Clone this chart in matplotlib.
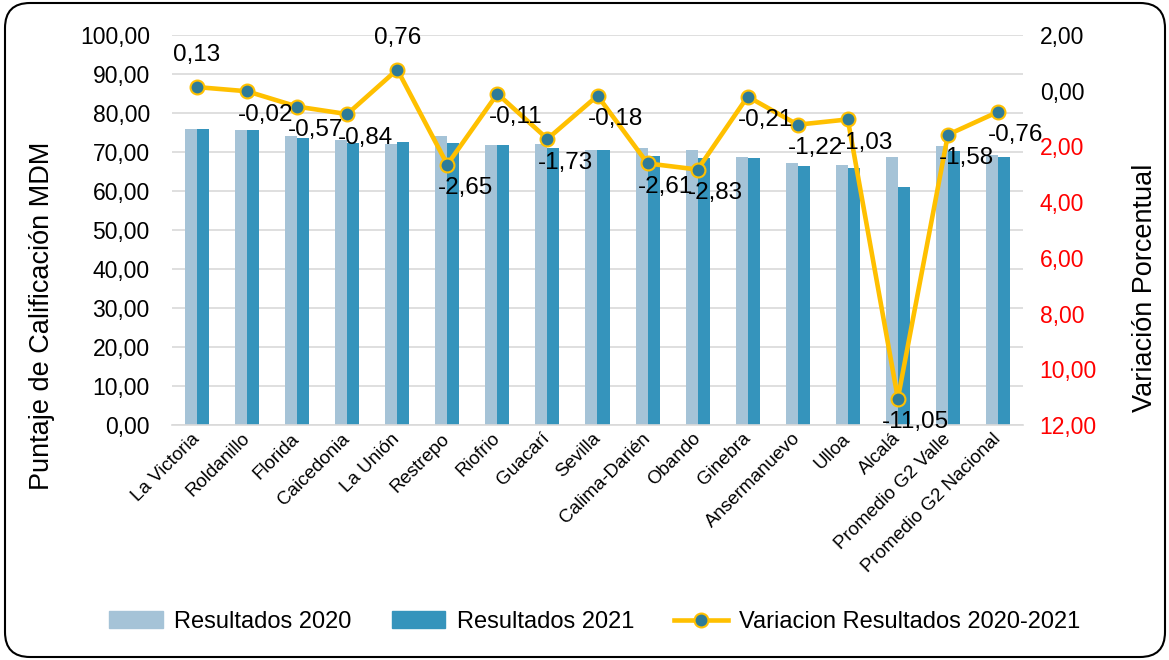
import matplotlib
matplotlib.use("Agg")
import matplotlib.pyplot as plt
from matplotlib.patches import FancyBboxPatch, Patch
from matplotlib.lines import Line2D
from matplotlib.ticker import FuncFormatter, MultipleLocator
import numpy as np

plt.rcParams['font.family'] = ['Liberation Sans', 'DejaVu Sans']

# datos
municipios = ["La Victoria", "Roldanillo", "Florida", "Caicedonia", "La Unión", "Restrepo",
              "Riofrio", "Guacarí", "Sevilla", "Calima-Darién", "Obando", "Ginebra",
              "Ansermanuevo", "Ulloa", "Alcalá", "Promedio G2 Valle", "Promedio G2 Nacional"]
res_2020 = [75.8, 75.6, 74.0, 73.0, 72.0, 74.1, 71.8, 72.1, 70.5, 70.9, 70.5, 68.6,
            67.2, 66.6, 68.6, 71.5, 69.2]
res_2021 = [75.9, 75.6, 73.6, 72.4, 72.5, 72.2, 71.8, 70.9, 70.4, 69.1, 68.5, 68.4,
            66.4, 66.0, 61.0, 70.3, 68.8]
variacion = [0.13, -0.02, -0.57, -0.84, 0.76, -2.65, -0.11, -1.73, -0.18, -2.61, -2.83,
             -0.21, -1.22, -1.03, -11.05, -1.58, -0.76]

c2020 = "#A5C3D7"
c2021 = "#3594BC"
c_linea = "#FFC000"
c_marca = "#2E7B98"

def coma(v, dec=2):
    return f"{v:.{dec}f}".replace(".", ",")

fig = plt.figure(figsize=(11.69, 6.6), dpi=100)
ax = fig.add_axes([172/1169, 1 - 425/660, (1023-172)/1169, (425-35)/660])

x = np.arange(len(municipios))
w = 0.24
ax.bar(x - w/2, res_2020, width=w, color=c2020, zorder=2)
ax.bar(x + w/2, res_2021, width=w, color=c2021, zorder=2)

ax.set_xlim(-0.5, len(municipios) - 0.5)
ax.set_ylim(0, 100)
ax.yaxis.set_major_locator(MultipleLocator(10))
ax.yaxis.set_major_formatter(FuncFormatter(lambda v, p: coma(v)))
ax.grid(axis='y', color='#D9D9D9', linewidth=1.2, zorder=0)
ax.set_axisbelow(True)
for s in ['top', 'right', 'left']:
    ax.spines[s].set_visible(False)
ax.spines['bottom'].set_color('#D9D9D9')
ax.spines['bottom'].set_linewidth(1.2)
ax.tick_params(axis='both', length=0)
ax.tick_params(axis='y', labelsize=16.5, pad=16)
ax.set_xticks(x)
ax.set_xticklabels(municipios, rotation=45, ha='right', va='center',
                   rotation_mode='anchor', fontsize=13.5)
ax.tick_params(axis='x', pad=8)

# eje secundario
ax2 = ax.twinx()
ax2.plot(x, variacion, color=c_linea, linewidth=3.3, marker='o', markersize=10,
         markerfacecolor=c_marca, markeredgecolor=c_linea, markeredgewidth=1.5, zorder=3)
ax2.set_ylim(-12, 2)
ax2.yaxis.set_major_locator(MultipleLocator(2))
ax2.yaxis.set_major_formatter(FuncFormatter(lambda v, p: coma(abs(v))))
for s in ['top', 'right', 'left', 'bottom']:
    ax2.spines[s].set_visible(False)
ax2.tick_params(axis='y', length=0, labelsize=16.5, pad=12)
fig.canvas.draw()
for t in ax2.get_yticklabels():
    if t.get_position()[1] < 0:
        t.set_color('#FF0000')

for xi, v in zip(x, variacion):
    if v > 0:
        off = (0, 23)
    else:
        off = (13, -17)
    ax2.annotate(coma(v), (xi, v), xytext=off, textcoords='offset points',
                 ha='center', va='center', fontsize=17.5, zorder=4)

fig.text(42/1169, 1 - 316/660, "Puntaje de Calificación MDM", rotation=90,
         ha='center', va='center', fontsize=19.5)
fig.text(1145/1169, 1 - 288/660, "Variación Porcentual", rotation=90,
         ha='center', va='center', fontsize=19.5)

handles = [Patch(color=c2020), Patch(color=c2021),
           Line2D([0], [0], color=c_linea, linewidth=3.3, marker='o', markersize=10,
                  markerfacecolor=c_marca, markeredgecolor=c_linea, markeredgewidth=1.5)]
fig.legend(handles, ["Resultados 2020", "Resultados 2021", "Variacion Resultados 2020-2021"],
           loc='center', bbox_to_anchor=(0.509, 1 - 622/660), ncol=3, frameon=False,
           fontsize=17, handlelength=2.25, columnspacing=1.7, handletextpad=0.5)

borde = FancyBboxPatch((0.05, 0.03), 11.6, 6.54, boxstyle="round,pad=0,rounding_size=0.25",
                       transform=fig.dpi_scale_trans, facecolor='none', edgecolor='black',
                       linewidth=1.5)
fig.patches.append(borde)

fig.savefig("out.png", dpi=100)
